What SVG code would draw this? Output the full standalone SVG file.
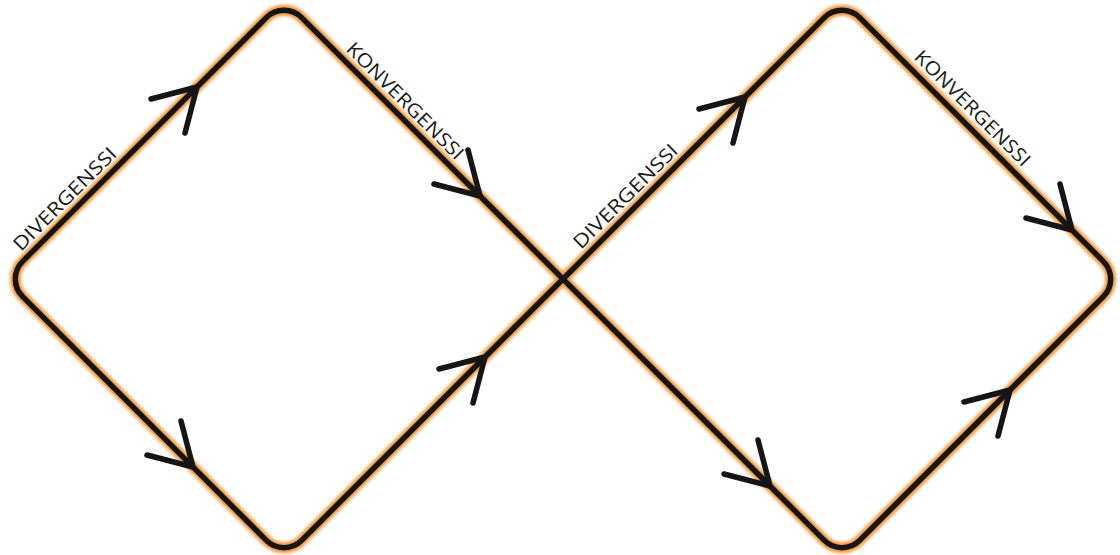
<svg xmlns="http://www.w3.org/2000/svg" width="1120" height="555" viewBox="0 0 1120 555">
  <defs>
    <filter id="glow" x="-5%" y="-5%" width="110%" height="110%">
      <feGaussianBlur stdDeviation="1.8"/>
    </filter>
    <path id="loop" d="M563,279 L824.32,17.68 A25,25 0 0 1 859.68,17.68 L1103.32,261.32 A25,25 0 0 1 1103.32,296.68 L859.68,540.32 A25,25 0 0 1 824.32,540.32 L301.68,17.68 A25,25 0 0 0 266.32,17.68 L22.68,261.32 A25,25 0 0 0 22.68,296.68 L266.32,540.32 A25,25 0 0 0 301.68,540.32 Z"/>
    <polyline id="chev" points="-46,12 0,0 -12,46"/>
  </defs>
  <style>
    .glow { fill: none; stroke: #f39a3c; stroke-width: 11; filter: url(#glow); }
    .line { fill: none; stroke: #151515; stroke-width: 5.5; stroke-linejoin: round; }
    .chev { fill: none; stroke: #151515; stroke-width: 5.5; stroke-linecap: round; stroke-linejoin: round; }
    .lbl { font-family: "Open Sans", "Liberation Sans", sans-serif; font-size: 19px; fill: #1a1a1a; }
  </style>
  <rect width="1120" height="555" fill="#ffffff"/>
  <g id="connectors">
    <use href="#loop" class="glow"/>
    <use href="#loop" class="line"/>
    <g class="chev">
      <use href="#chev" transform="translate(197,87)"/>
      <use href="#chev" transform="translate(485,357)"/>
      <use href="#chev" transform="translate(745,97)"/>
      <use href="#chev" transform="translate(1010,390)"/>
      <use href="#chev" transform="translate(480,196) rotate(90)"/>
      <use href="#chev" transform="translate(193,467) rotate(90)"/>
      <use href="#chev" transform="translate(1072,230) rotate(90)"/>
      <use href="#chev" transform="translate(770,486) rotate(90)"/>
    </g>
  </g>
  <g id="label-divergence-1">
    <text class="lbl" transform="translate(21,252) rotate(-45)" textLength="137" lengthAdjust="spacingAndGlyphs">DIVERGENSSI</text>
  </g>
  <g id="label-convergence-1">
    <text class="lbl" transform="translate(345,50) rotate(45)" textLength="157" lengthAdjust="spacingAndGlyphs">KONVERGENSSI</text>
  </g>
  <g id="label-divergence-2">
    <text class="lbl" transform="translate(581,250) rotate(-45)" textLength="139" lengthAdjust="spacingAndGlyphs">DIVERGENSSI</text>
  </g>
  <g id="label-convergence-2">
    <text class="lbl" transform="translate(913,58) rotate(45)" textLength="155" lengthAdjust="spacingAndGlyphs">KONVERGENSSI</text>
  </g>
</svg>
